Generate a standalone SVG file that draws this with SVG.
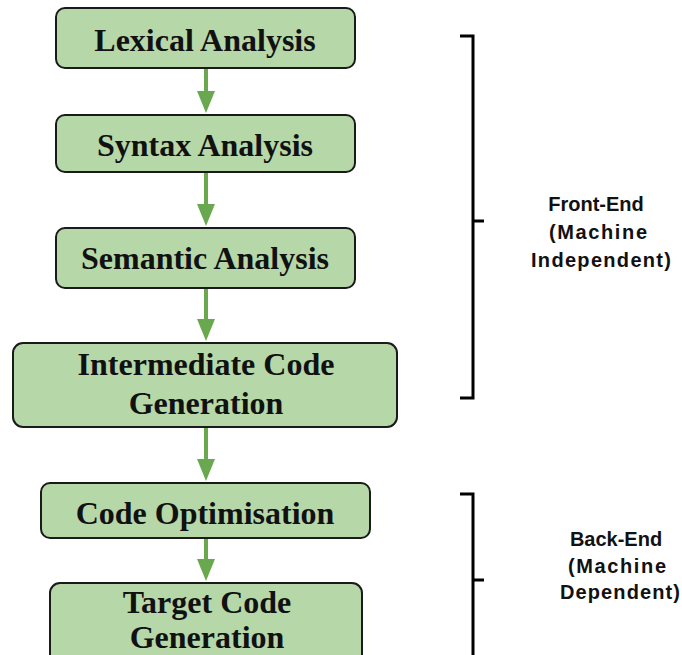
<svg xmlns="http://www.w3.org/2000/svg" width="682" height="655" viewBox="0 0 682 655">
<style>
.box{fill:#b6d7a8;stroke:#1a1a1a;stroke-width:2}
.bt{font-family:"Liberation Serif","Times New Roman",serif;font-weight:bold;font-size:32px;fill:#111;text-anchor:middle}
.lt{font-family:"Liberation Sans",Arial,sans-serif;font-weight:bold;font-size:20px;fill:#111;text-anchor:middle}
.ln{stroke:#6aa84f;stroke-width:4;fill:none}
.hd{fill:#6aa84f}
.br{fill:none;stroke:#000;stroke-width:3}
</style>
<rect width="682" height="655" fill="#fff"/>
<g id="connectors">
<path class="ln" d="M206,69 V100"/>
<path class="hd" d="M197,91 L215,91 L206,113 Z"/>
<path class="ln" d="M206,172 V210"/>
<path class="hd" d="M197,204 L215,204 L206,226 Z"/>
<path class="ln" d="M206,288 V325"/>
<path class="hd" d="M197,319 L215,319 L206,341 Z"/>
<path class="ln" d="M206,428 V465"/>
<path class="hd" d="M197,459 L215,459 L206,481 Z"/>
<path class="ln" d="M206,539 V565"/>
<path class="hd" d="M197,559 L215,559 L206,581 Z"/>
</g>
<g id="lexical">
<rect class="box" x="56" y="8" width="299" height="60" rx="9"/>
<text class="bt" x="205" y="51">Lexical Analysis</text>
</g>
<g id="syntax">
<rect class="box" x="56" y="115" width="299" height="57" rx="9"/>
<text class="bt" x="205" y="156">Syntax Analysis</text>
</g>
<g id="semantic">
<rect class="box" x="56" y="228" width="299" height="60" rx="9"/>
<text class="bt" x="205" y="269">Semantic Analysis</text>
</g>
<g id="intermediate">
<rect class="box" x="13" y="343" width="384" height="84" rx="10"/>
<text class="bt" x="206" y="375">Intermediate Code</text>
<text class="bt" x="206" y="414">Generation</text>
</g>
<g id="optimisation">
<rect class="box" x="41" y="483" width="329" height="55" rx="9"/>
<text class="bt" x="205" y="524">Code Optimisation</text>
</g>
<g id="target">
<rect class="box" x="50" y="583" width="312" height="90" rx="10"/>
<text class="bt" x="207" y="613">Target Code</text>
<text class="bt" x="207" y="648">Generation</text>
</g>
<g id="frontend">
<path class="br" d="M460,36 H473 V398 H460 M473,221 H484"/>
<text class="lt" x="596" y="211">Front-End</text>
<text class="lt" x="598" y="239" textLength="98">(Machine</text>
<text class="lt" x="601" y="267" textLength="140">Independent)</text>
</g>
<g id="backend">
<path class="br" d="M460,494 H473 V660 M473,580 H484"/>
<text class="lt" x="616" y="546">Back-End</text>
<text class="lt" x="617" y="573" textLength="98">(Machine</text>
<text class="lt" x="620" y="599" textLength="120">Dependent)</text>
</g>
</svg>
